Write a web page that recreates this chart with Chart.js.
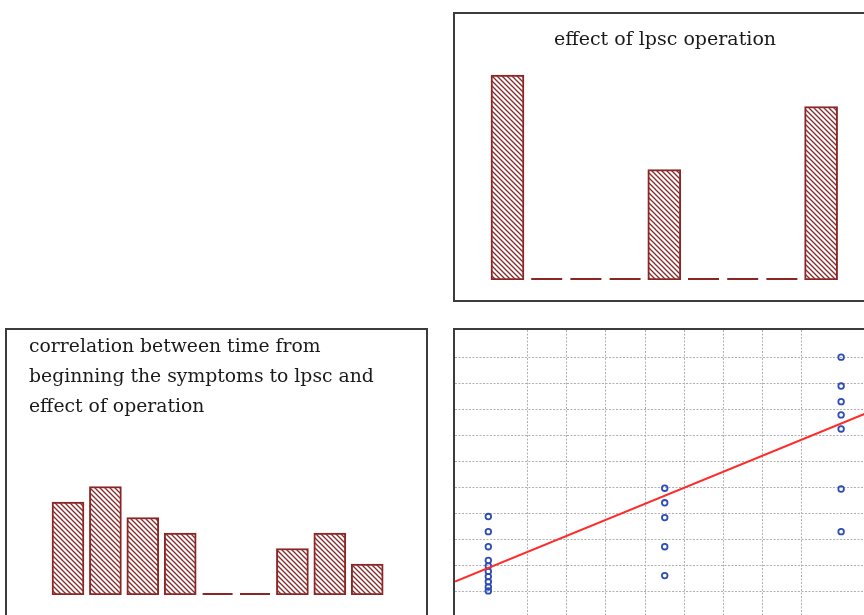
<!DOCTYPE html>
<html>
<head>
<meta charset="utf-8">
<script src="https://cdn.jsdelivr.net/npm/chart.js@4/dist/chart.umd.min.js"></script>
<style>
  html, body { margin:0; padding:0; background:#fff; overflow:hidden; width:864px; height:615px; }
  .panel { position:absolute; border:2px solid #3c3c3c; background:#fff; }
  .panel canvas { display:block; }
</style>
</head>
<body>
<div class="panel" style="left:453px; top:12px;"><canvas id="opChart" width="420" height="286"></canvas></div>
<div class="panel" style="left:5px; top:328px;"><canvas id="timeChart" width="419" height="290"></canvas></div>
<div class="panel" style="left:453px; top:328px;"><canvas id="scatterChart" width="420" height="300"></canvas></div>
<script>
// effect of lpsc operation
const opSlots  = [1, 2, 3, 4, 5, 6, 7, 8, 9];
const opValues = [13, 0, 0, 0, 7, 0, 0, 0, 11];

// time from symptoms to lpsc vs effect
const timeSlots  = [1, 2, 3, 4, 5, 6, 7, 8, 9];
const timeValues = [6, 7, 5, 4, 0, 0, 3, 4, 2];

// scatter: time group (x) vs score (y)
const scatX = [1, 1, 1, 1, 1, 1, 1, 1, 1, 1,
               5.5, 5.5, 5.5, 5.5, 5.5,
               10, 10, 10, 10, 10, 10, 10];
const scatY = [2.89, 2.31, 1.73, 1.2, 0.99, 0.78, 0.58, 0.38, 0.18, 0.03,
               3.98, 3.42, 2.85, 1.73, 0.62,
               9.02, 7.91, 7.31, 6.8, 6.26, 3.95, 2.31];
// fitted line, read at the two edges of the plot
const trendX = [0.15, 10.86];
const trendY = [0.39, 7.0];

const BAR   = '#8b2626';
const SERIF = "'DejaVu Serif', 'Liberation Serif', serif";
const INK   = '#1a1a1a';

function hatch() {
  const s = 5, c = document.createElement('canvas');
  c.width = s; c.height = s;
  const g = c.getContext('2d');
  g.fillStyle = '#fff'; g.fillRect(0, 0, s, s);
  g.strokeStyle = BAR; g.lineWidth = 1.3;
  g.beginPath();
  g.moveTo(-1, -1); g.lineTo(s + 1, s + 1);
  g.moveTo(-1, s - 1); g.lineTo(1, s + 1);
  g.moveTo(s - 1, -1); g.lineTo(s + 1, 1);
  g.stroke();
  return g.createPattern(c, 'repeat');
}

// zero bars show up as a flat stroke on the base line
const zeroDash = {
  id: 'zeroDash',
  afterDatasetsDraw(chart) {
    const ctx = chart.ctx;
    chart.data.datasets.forEach((ds, i) => {
      chart.getDatasetMeta(i).data.forEach((el, j) => {
        if (ds.data[j].y !== 0) return;
        const w = el.width / 2 - 1;
        ctx.save();
        ctx.strokeStyle = BAR; ctx.lineWidth = 2;
        ctx.beginPath();
        ctx.moveTo(el.x - w, el.base - 1);
        ctx.lineTo(el.x + w, el.base - 1);
        ctx.stroke();
        ctx.restore();
      });
    });
  }
};

function barChart(id, slots, values, o) {
  return new Chart(document.getElementById(id), {
    type: 'bar',
    data: {
      datasets: [{
        data: slots.map((x, i) => ({ x, y: values[i] })),
        backgroundColor: hatch(),
        borderColor: BAR, borderWidth: 2, borderSkipped: false,
        barThickness: o.thick,
      }],
    },
    options: {
      responsive:false, animation:false,
      layout:{ padding:o.pad, autoPadding:false },
      plugins: {
        legend:{ display:false }, tooltip:{ enabled:false },
        title:{ display:true, text:o.title, align:o.align, color:INK,
                font:{ family:SERIF, size:o.fs, weight:'normal', lineHeight:o.lh },
                padding:o.tpad },
      },
      scales: {
        x:{ type:'linear', offset:false, min:o.xmin, max:o.xmax, display:false },
        y:{ min:0, max:o.ymax, display:false },
      },
    },
    plugins: [zeroDash],
  });
}

barChart('opChart', opSlots, opValues, {
  title:'effect of lpsc operation', align:'center', lh:'20px', fs:19,
  tpad:{ top:16, bottom:9.2 }, pad:{ left:0, right:0, top:0, bottom:20 },
  thick:33, xmin:-0.339, xmax:10.375, ymax:14,
});

barChart('timeChart', timeSlots, timeValues, {
  title:['correlation between time from', 'beginning the symptoms to lpsc and', 'effect of operation'],
  align:'start', lh:'30px', fs:18.8,
  tpad:{ top:2, bottom:49 }, pad:{ left:22, right:0, top:0, bottom:25 },
  thick:32, xmin:-0.043, xmax:10.572, ymax:8,
});

const gridOn = ctx => Number.isInteger(ctx.tick.value) ? '#b0b0b0' : 'rgba(0,0,0,0)';

new Chart(document.getElementById('scatterChart'), {
  type: 'scatter',
  data: {
    datasets: [
      { type:'line', data: trendX.map((x, i) => ({ x, y: trendY[i] })),
        borderColor:'#ff2a2a', borderWidth:2, pointRadius:0, fill:false },
      { data: scatX.map((x, i) => ({ x, y: scatY[i] })),
        pointRadius:2.8, borderColor:'#2d4cb4', borderWidth:1.8,
        backgroundColor:'rgba(0,0,0,0)' },
    ],
  },
  options: {
    responsive:false, animation:false,
    layout:{ padding:0, autoPadding:false },
    plugins:{ legend:{ display:false }, tooltip:{ enabled:false } },
    scales: {
      x:{ type:'linear', min:0.15, max:10.864, ticks:{ display:false, stepSize:1 },
          grid:{ color:gridOn, drawTicks:false }, border:{ display:false, dash:[2,1.5] } },
      y:{ min:-1.473, max:10.065, ticks:{ display:false, stepSize:1 },
          grid:{ color:gridOn, drawTicks:false }, border:{ display:false, dash:[2,1.5] } },
    },
  },
});
</script>
</body>
</html>
